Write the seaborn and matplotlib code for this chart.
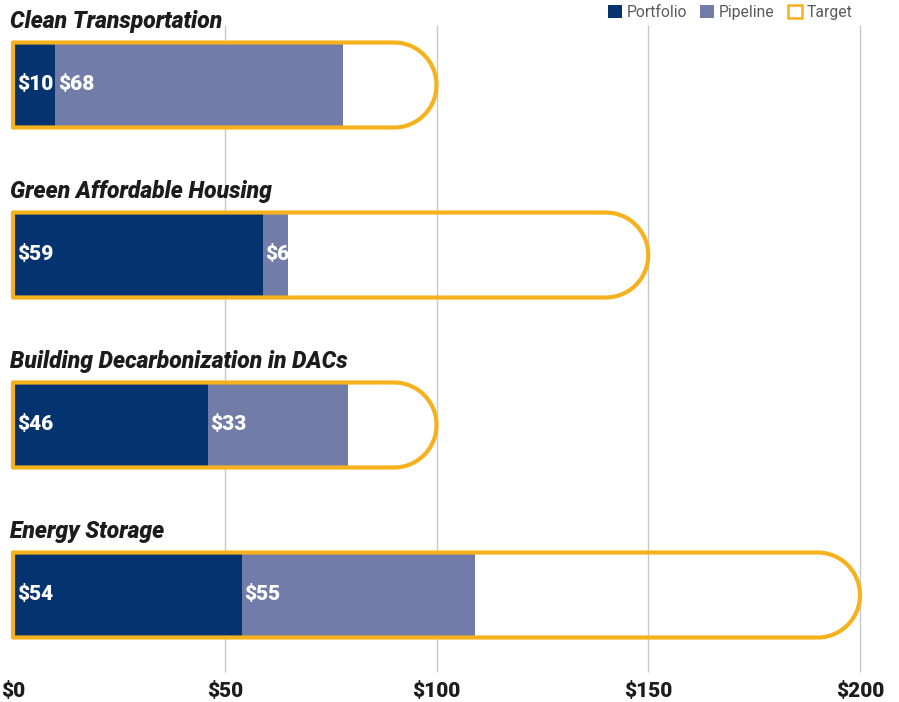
import matplotlib
matplotlib.use("Agg")
import matplotlib.pyplot as plt
from matplotlib.patches import Patch, PathPatch
from matplotlib.path import Path
import seaborn as sns
import pandas as pd
import numpy as np

# Data
categories = ["Clean Transportation", "Green Affordable Housing",
              "Building Decarbonization in DACs", "Energy Storage"]
portfolio = [10, 59, 46, 54]
pipeline = [68, 6, 33, 55]
target = [100, 150, 100, 200]
tick_values = [0, 50, 100, 150, 200]
tick_labels = ["$0", "$50", "$100", "$150", "$200"]

# Colours
c_portfolio = "#04336F"
c_pipeline = "#717CA8"
c_target = "#F6B21C"
c_grid = "#C8C8C8"
c_text = "#1C1C1C"

df = pd.DataFrame({"category": categories, "portfolio": portfolio, "pipeline": pipeline, "target": target})
df["total"] = df["portfolio"] + df["pipeline"]

sns.set_theme(style="white")
plt.rcParams["font.family"] = ["Roboto", "DejaVu Sans"]

fig = plt.figure(figsize=(8.99, 7.02), dpi=100)
ax = fig.add_axes([13 / 899, 1 - 672 / 702, 847 / 899, 647 / 702])

bar_h = 0.5

# Stacked bars: total in pipeline colour, portfolio on top
sns.barplot(data=df, x="total", y="category", orient="h", color=c_pipeline,
            saturation=1, width=bar_h, linewidth=0, ax=ax, zorder=2)
sns.barplot(data=df, x="portfolio", y="category", orient="h", color=c_portfolio,
            saturation=1, width=bar_h, linewidth=0, ax=ax, zorder=3)

ax.set_xlim(0, 200)
ax.set_ylim(3 + 77 / 170, -60 / 170)

# Target outline: square left end, round right end
px_per_x = ax.get_window_extent().width / 200
px_per_y = ax.get_window_extent().height / (ax.get_ylim()[0] - ax.get_ylim()[1])
ry = bar_h / 2
rx = ry * px_per_y / px_per_x
theta = np.linspace(-np.pi / 2, np.pi / 2, 60)
for i, t in enumerate(df["target"]):
    top, bot = i - ry, i + ry
    cx = t - rx
    arc_x = cx + rx * np.cos(theta)
    arc_y = i + ry * np.sin(theta)
    verts = [(0, top), (cx, top)] + list(zip(arc_x, arc_y)) + [(cx, bot), (0, bot), (0, top)]
    codes = [Path.MOVETO] + [Path.LINETO] * (len(verts) - 2) + [Path.CLOSEPOLY]
    ax.add_patch(PathPatch(Path(verts, codes), facecolor="none", edgecolor=c_target,
                           linewidth=3, zorder=4, clip_on=False, joinstyle="round"))

# Gridlines
ax.vlines(tick_values[1:], *ax.get_ylim(), color=c_grid, linewidth=1, zorder=0, clip_on=False)

# Category titles
for i, name in enumerate(categories):
    ax.annotate(name, (0, i - 0.375), xytext=(-2, 0), textcoords="offset points",
                ha="left", va="center", fontsize=16.5, fontweight="black", fontstyle="italic",
                color=c_text, annotation_clip=False)

# Value labels
for i, row in df.iterrows():
    ax.annotate(f"${row['portfolio']}", (0, i), xytext=(3, 0), textcoords="offset points",
                ha="left", va="center", fontsize=15, fontweight="black", color="white", zorder=5)
    ax.annotate(f"${row['pipeline']}", (row["portfolio"], i), xytext=(1.8, 0), textcoords="offset points",
                ha="left", va="center", fontsize=15, fontweight="black", color="white", zorder=5)

# Axes styling
ax.set_xticks(tick_values)
ax.set_xticklabels(tick_labels, fontsize=15, fontweight="black", color=c_text)
ax.set_yticks([])
ax.set_xlabel("")
ax.set_ylabel("")
ax.tick_params(axis="x", length=0, pad=7)
sns.despine(ax=ax, left=True, bottom=True)
ax.grid(False)

# Legend
handles = [Patch(facecolor=c_portfolio, edgecolor="none"),
           Patch(facecolor=c_pipeline, edgecolor="none"),
           Patch(facecolor="white", edgecolor=c_target, linewidth=1.8)]
fig.legend(handles, ["Portfolio", "Pipeline", "Target"], loc="upper right",
           bbox_to_anchor=(862 / 899, 1.006), ncol=3, frameon=False, fontsize=11.3,
           handlelength=0.9, handleheight=0.9, columnspacing=0.85, handletextpad=0.3,
           labelcolor="#5A5A5A", borderaxespad=0.2)

fig.savefig("out.png", dpi=100)
